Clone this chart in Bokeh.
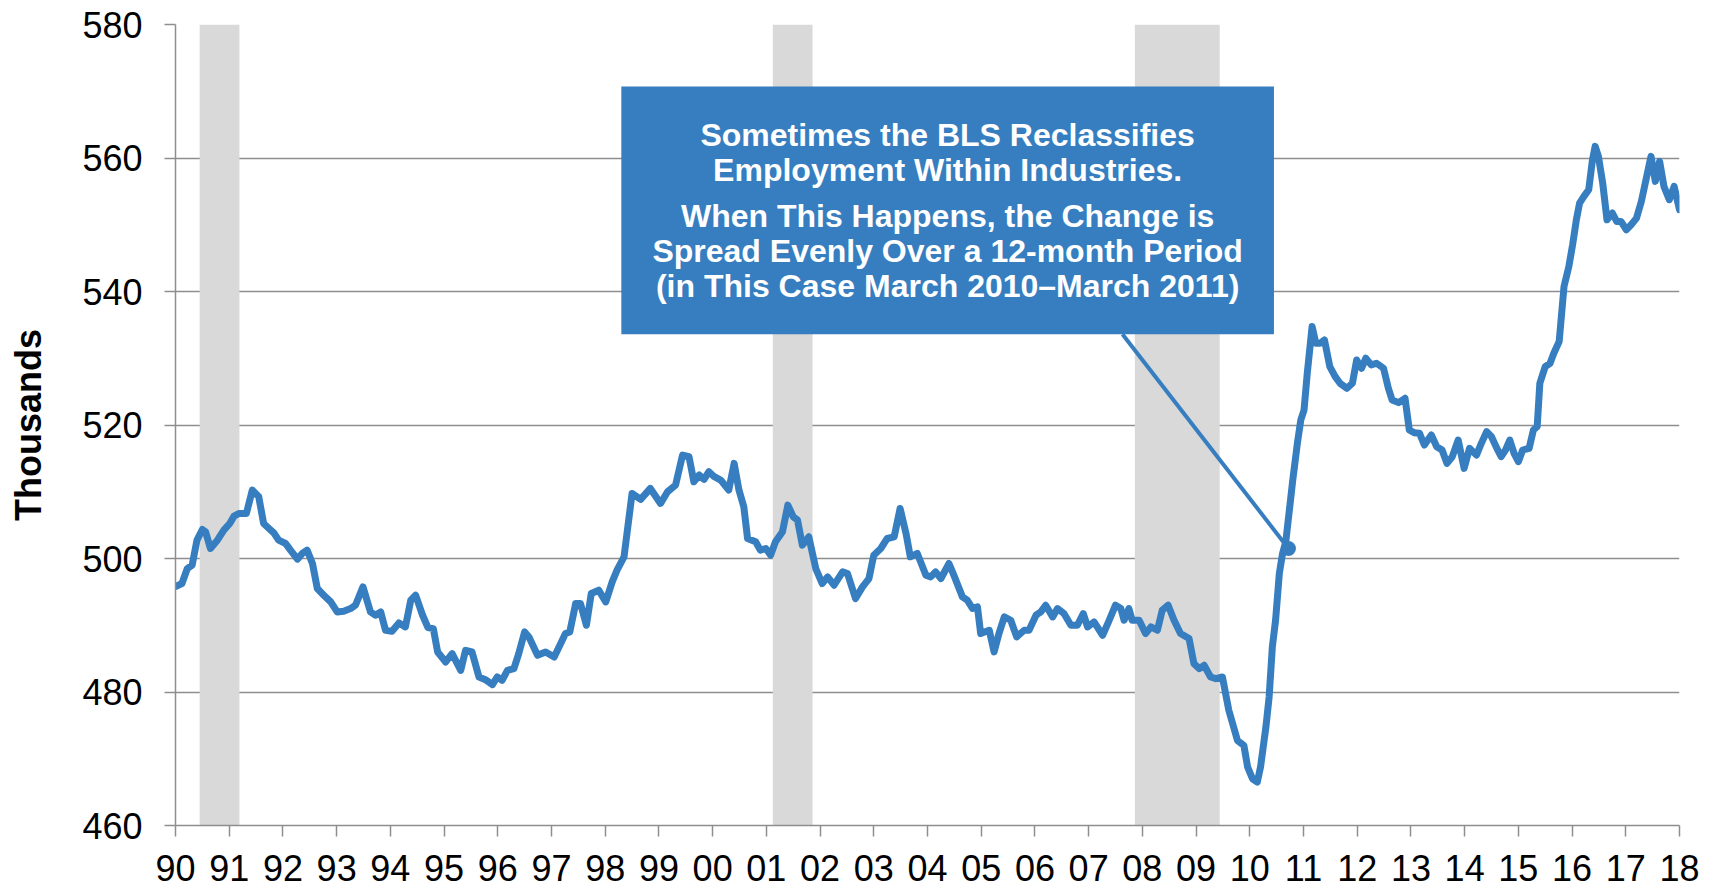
from bokeh.plotting import figure
from bokeh.models import FixedTicker, Range1d
from bokeh.embed import file_html
from bokeh.resources import INLINE
from bokeh.core.properties import value

# ---- data ----
years = [
    1990.00, 1990.12, 1990.22, 1990.31, 1990.40, 1990.50, 1990.56, 1990.65, 1990.78, 1990.90,
    1991.01, 1991.09, 1991.18, 1991.32, 1991.43, 1991.55, 1991.64, 1991.74, 1991.83, 1991.92,
    1992.05, 1992.14, 1992.27, 1992.36, 1992.45, 1992.55, 1992.64, 1992.76, 1992.89,
    1993.01, 1993.13, 1993.26, 1993.35, 1993.49, 1993.63, 1993.72, 1993.82, 1993.91,
    1994.03, 1994.16, 1994.28, 1994.38, 1994.47, 1994.60, 1994.70, 1994.80, 1994.88,
    1995.03, 1995.15, 1995.31, 1995.40, 1995.52, 1995.65, 1995.77, 1995.90, 1995.99,
    1996.08, 1996.18, 1996.30, 1996.39, 1996.50, 1996.58, 1996.74, 1996.89,
    1997.05, 1997.14, 1997.26, 1997.34, 1997.45, 1997.54, 1997.65, 1997.74, 1997.88,
    1998.01, 1998.13, 1998.22, 1998.35, 1998.50, 1998.66, 1998.84,
    1999.03, 1999.16, 1999.31, 1999.44, 1999.56, 1999.65, 1999.75, 1999.84, 1999.93,
    2000.03, 2000.15, 2000.30, 2000.40, 2000.49, 2000.58, 2000.65, 2000.80, 2000.89, 2000.99,
    2001.08, 2001.17, 2001.30, 2001.40, 2001.50, 2001.58, 2001.67, 2001.79, 2001.92,
    2002.04, 2002.14, 2002.26, 2002.42, 2002.51, 2002.66, 2002.79, 2002.91,
    2003.00, 2003.13, 2003.25, 2003.38, 2003.49, 2003.60, 2003.68, 2003.81, 2003.97,
    2004.06, 2004.15, 2004.25, 2004.40, 2004.49, 2004.65, 2004.74, 2004.84, 2004.93, 2004.99,
    2005.15, 2005.24, 2005.33, 2005.43, 2005.55, 2005.66, 2005.80, 2005.89,
    2006.02, 2006.11, 2006.20, 2006.33, 2006.42, 2006.54, 2006.67, 2006.79, 2006.90, 2006.98,
    2007.10, 2007.26, 2007.37, 2007.50, 2007.60, 2007.66, 2007.75, 2007.81, 2007.94,
    2008.06, 2008.16, 2008.28, 2008.37, 2008.48, 2008.59, 2008.71, 2008.87, 2008.96,
    2009.06, 2009.15, 2009.27, 2009.37, 2009.49, 2009.61, 2009.77, 2009.89, 2009.96,
    2010.05, 2010.14, 2010.20, 2010.30, 2010.36, 2010.42, 2010.48, 2010.55, 2010.61,
    2010.67, 2010.73, 2010.80, 2010.89, 2010.95,
    2011.01, 2011.07, 2011.16, 2011.23, 2011.31, 2011.39, 2011.49, 2011.59, 2011.68,
    2011.81, 2011.91, 2011.99,
    2012.08, 2012.16, 2012.26, 2012.36, 2012.49, 2012.58, 2012.65, 2012.77, 2012.89, 2012.97,
    2013.06, 2013.16, 2013.25, 2013.38, 2013.48, 2013.58, 2013.67, 2013.77, 2013.88, 2013.99,
    2014.09, 2014.22, 2014.31, 2014.41, 2014.50, 2014.60, 2014.68, 2014.76, 2014.84, 2014.92,
    2015.00, 2015.08, 2015.20, 2015.28, 2015.35, 2015.40, 2015.50, 2015.59, 2015.66, 2015.76,
    2015.85, 2015.94,
    2016.01, 2016.08, 2016.14, 2016.22, 2016.31, 2016.38, 2016.43, 2016.49, 2016.57, 2016.65,
    2016.75, 2016.83, 2016.91,
    2017.01, 2017.10, 2017.20, 2017.29, 2017.39, 2017.47, 2017.55, 2017.63, 2017.71, 2017.81,
    2017.90, 2018.00,
]
employment = [
    495.8, 496.25, 498.5, 499.0, 502.75, 504.35, 504.0, 501.5, 502.75, 504.25,
    505.25, 506.35, 506.75, 506.75, 510.25, 509.25, 505.25, 504.5, 503.85, 502.75,
    502.25, 501.25, 499.9, 500.75, 501.25, 499.25, 495.5, 494.5, 493.5,
    492.0, 492.1, 492.5, 493.0, 495.75, 492.0, 491.5, 492.0, 489.25,
    489.1, 490.35, 489.75, 493.75, 494.5, 491.5, 489.65, 489.5, 486.0,
    484.5, 485.75, 483.25, 486.25, 486.0, 482.25, 481.85, 481.1, 482.25,
    481.75, 483.25, 483.5, 485.75, 489.0, 488.25, 485.5, 486.0,
    485.25, 486.75, 488.75, 489.0, 493.25, 493.25, 490.0, 494.75, 495.25,
    493.5, 496.5, 498.25, 500.25, 509.75, 508.85, 510.5,
    508.25, 510.0, 511.0, 515.5, 515.25, 511.5, 512.5, 511.85, 513.0,
    512.25, 511.75, 510.25, 514.25, 510.25, 507.75, 503.0, 502.5, 501.25, 501.5,
    500.5, 502.5, 504.0, 508.0, 506.25, 505.75, 502.0, 503.25, 498.5,
    496.25, 497.25, 496.0, 498.0, 497.75, 494.0, 495.75, 497.0,
    500.5, 501.5, 503.0, 503.25, 507.5, 503.75, 500.25, 500.75, 497.5,
    497.25, 498.0, 497.0, 499.25, 497.5, 494.25, 493.75, 492.5, 492.75, 488.75,
    489.25, 486.0, 488.75, 491.25, 490.75, 488.25, 489.25, 489.25,
    491.5, 492.0, 493.0, 491.25, 492.5, 491.75, 490.0, 490.0, 491.75, 489.75,
    490.5, 488.5, 490.5, 493.0, 492.5, 490.75, 492.5, 490.75, 490.75,
    488.75, 489.75, 489.25, 492.25, 493.0, 490.75, 488.75, 488.0, 484.25,
    483.5, 484.0, 482.25, 482.0, 482.25, 477.25, 472.75, 472.0, 468.75,
    467.0, 466.5, 468.75, 474.75, 479.25, 486.75, 490.75, 497.75, 500.75,
    502.5, 506.75, 511.75, 517.5, 520.75,
    522.25, 527.75, 534.75, 532.25, 532.25, 532.75, 528.75, 527.25, 526.25,
    525.5, 526.25, 529.75,
    528.5, 530.0, 529.0, 529.25, 528.5, 525.5, 523.75, 523.35, 524.0, 519.25,
    518.85, 518.75, 517.0, 518.5, 516.75, 516.25, 514.25, 515.25, 517.75, 513.5,
    516.5, 515.5, 517.25, 519.0, 518.25, 516.5, 515.25, 516.25, 517.75, 515.75,
    514.5, 516.25, 516.5, 519.25, 519.75, 526.25, 528.75, 529.25, 530.75, 532.5,
    540.75, 543.75,
    547.0, 550.75, 553.25, 554.25, 555.25, 559.75, 561.75, 560.25, 556.25, 550.75,
    551.75, 550.5, 550.5,
    549.25, 550.0, 551.0, 553.5, 557.25, 560.25, 556.5, 559.5, 555.75, 553.75,
    555.75, 552.25,
]

tick_years = list(range(1990, 2019))
tick_labels = ["90", "91", "92", "93", "94", "95", "96", "97", "98", "99",
               "00", "01", "02", "03", "04", "05", "06", "07", "08", "09",
               "10", "11", "12", "13", "14", "15", "16", "17", "18"]
y_ticks = [460, 480, 500, 520, 540, 560, 580]

recession_start = [1990.45, 2001.12, 2007.86]
recession_end = [1991.19, 2001.86, 2009.44]

note_lines = [
    "Sometimes the BLS Reclassifies",
    "Employment Within Industries.",
    "When This Happens, the Change is",
    "Spread Evenly Over a 12-month Period",
    "(in This Case March 2010\u2013March 2011)",
]

# ---- styling / layout constants ----
BLUE = "#367ec0"
GRID = "#8e8e8e"
FONT = "Liberation Sans"

Y_MIN, Y_MAX = 460, 580
X_MIN, X_MAX = 1990, 2018

p = figure(width=1713, height=888,
           x_range=Range1d(X_MIN, X_MAX), y_range=Range1d(Y_MIN, Y_MAX),
           output_backend="svg", toolbar_location=None,
           min_border_left=175, min_border_right=34,
           min_border_top=24, min_border_bottom=63)
p.outline_line_color = None
p.background_fill_color = "white"
p.border_fill_color = "white"

# grid
p.xgrid.grid_line_color = None
p.ygrid.ticker = FixedTicker(ticks=y_ticks)
p.ygrid.grid_line_color = GRID
p.ygrid.grid_line_width = 1.5

# axes
for ax in (p.xaxis[0], p.yaxis[0]):
    ax.axis_line_color = GRID
    ax.axis_line_width = 1.5
    ax.major_tick_line_color = GRID
    ax.major_tick_line_width = 1.5
    ax.major_tick_out = 11
    ax.major_tick_in = 0
    ax.minor_tick_line_color = None
    ax.major_label_text_font = FONT
    ax.major_label_text_font_size = "36px"
    ax.major_label_text_color = "black"

p.xaxis.ticker = FixedTicker(ticks=tick_years)
p.xaxis.major_label_overrides = {y: lab for y, lab in zip(tick_years, tick_labels)}
p.xaxis.major_label_standoff = 18

p.yaxis.ticker = FixedTicker(ticks=y_ticks)
p.yaxis.major_label_standoff = 22
p.yaxis.axis_label = "Thousands"
p.yaxis.axis_label_text_font = FONT
p.yaxis.axis_label_text_font_size = "36px"
p.yaxis.axis_label_text_font_style = "bold"
p.yaxis.axis_label_text_color = "black"
p.yaxis.axis_label_standoff = 30

# recession shading
p.quad(left=recession_start, right=recession_end,
       bottom=[Y_MIN] * len(recession_start), top=[Y_MAX] * len(recession_start),
       fill_color="#d9d9d9", line_color=None)

# data line
p.line(years, employment, line_color=BLUE, line_width=7,
       line_join="round", line_cap="round")

# callout box
BOX_L, BOX_R, BOX_B, BOX_T = 1998.30, 2010.45, 533.6, 570.7
p.quad(left=[BOX_L], right=[BOX_R], bottom=[BOX_B], top=[BOX_T],
       fill_color=BLUE, line_color=None)

# pointer from box to the data
PTR_X = [2007.63, 2010.72]
PTR_Y = [BOX_B, 501.5]
p.line(PTR_X, PTR_Y, line_color=BLUE, line_width=4)
p.scatter([PTR_X[1]], [PTR_Y[1]], size=15, marker="circle",
          fill_color=BLUE, line_color=None)

text_center = (BOX_L + BOX_R) / 2
text_baselines = [563.4, 558.15, 551.25, 546.0, 540.75]
p.text(x=[text_center] * len(note_lines), y=text_baselines, text=note_lines,
       text_align="center", text_baseline="alphabetic",
       text_font=value(FONT), text_font_style="bold",
       text_font_size="32px", text_color="white")

open("out.html", "w").write(file_html(p, INLINE))
